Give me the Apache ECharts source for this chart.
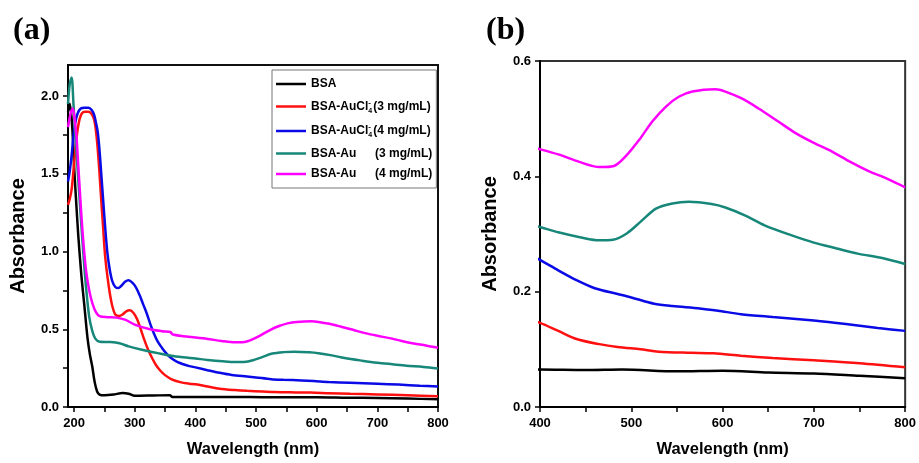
<!DOCTYPE html>
<html>
<head>
<meta charset="utf-8">
<script src="https://cdn.jsdelivr.net/npm/echarts@6/dist/echarts.min.js"></script>
<style>
  html, body { margin: 0; padding: 0; background: #fff; }
  #chart { width: 919px; height: 463px; }
</style>
</head>
<body>
<div id="chart"></div>
<script>
// spectra (wavelength nm / absorbance)
const bsaNm = [190,193,197,200,203,207,212,217,222,226,230,234,238,242,250,265,280,290,300,330,358,362,400,450,490,550,600,650,700,750,800]
const bsaAbs = [1.90,1.95,1.80,1.55,1.35,1.10,0.85,0.65,0.45,0.34,0.26,0.16,0.10,0.08,0.075,0.08,0.09,0.085,0.072,0.074,0.076,0.065,0.065,0.064,0.065,0.062,0.063,0.060,0.058,0.054,0.050]

const cl3Nm = [190,193,196,199,202,205,209,213,218,224,229,233,236,239,242,245,248,251,255,259,263,268,274,280,286,292,298,304,310,316,322,328,335,342,350,360,375,390,400,420,440,465,485,510,530,565,590,620,655,700,750,800]
const cl3Abs = [1.30,1.34,1.40,1.52,1.65,1.76,1.85,1.89,1.90,1.90,1.885,1.85,1.78,1.66,1.50,1.32,1.15,0.98,0.84,0.73,0.65,0.595,0.585,0.595,0.615,0.622,0.605,0.565,0.50,0.43,0.37,0.32,0.27,0.235,0.205,0.18,0.16,0.15,0.146,0.132,0.118,0.109,0.104,0.100,0.096,0.094,0.093,0.089,0.085,0.081,0.076,0.069]

const cl4Nm = [190,193,196,199,202,206,211,217,224,229,233,236,239,242,245,248,251,255,259,263,268,273,278,284,290,296,302,308,314,320,326,332,338,345,352,360,370,380,390,400,420,440,460,485,500,525,545,575,595,620,655,700,735,770,800]
const cl4Abs = [1.45,1.52,1.62,1.74,1.83,1.89,1.92,1.925,1.925,1.91,1.88,1.83,1.77,1.65,1.49,1.33,1.17,0.99,0.88,0.81,0.772,0.765,0.78,0.805,0.815,0.80,0.77,0.72,0.66,0.60,0.53,0.47,0.42,0.38,0.345,0.315,0.29,0.275,0.263,0.255,0.237,0.220,0.206,0.196,0.190,0.179,0.175,0.171,0.167,0.161,0.156,0.150,0.144,0.137,0.132]

const au3Nm = [190,193,196,199,202,205,208,212,216,220,225,230,235,242,260,275,290,310,340,360,380,400,420,445,465,480,495,510,527,545,563,588,603,625,646,675,700,725,748,776,800]
const au3Abs = [1.95,2.08,2.12,1.95,1.76,1.58,1.40,1.17,0.95,0.76,0.58,0.49,0.44,0.42,0.418,0.41,0.39,0.37,0.345,0.33,0.32,0.312,0.303,0.294,0.289,0.290,0.301,0.321,0.344,0.353,0.356,0.352,0.346,0.332,0.315,0.298,0.285,0.275,0.266,0.258,0.248]

const au4Nm = [190,195,198,201,204,207,210,213,216,220,225,230,236,242,255,270,285,300,325,345,359,362,380,400,420,443,465,481,494,509,523,538,552,567,592,603,621,639,661,680,700,720,740,760,780,800]
const au4Abs = [1.80,1.90,1.92,1.85,1.74,1.55,1.36,1.18,1.03,0.87,0.75,0.67,0.61,0.585,0.578,0.575,0.56,0.53,0.50,0.488,0.482,0.468,0.455,0.447,0.438,0.425,0.416,0.418,0.435,0.464,0.495,0.521,0.538,0.547,0.551,0.547,0.535,0.518,0.495,0.475,0.458,0.443,0.425,0.409,0.396,0.381]

// tick labels
const xLabelsA = [200,300,400,500,600,700,800]
const xTicksA = [200,250,300,350,400,450,500,550,600,650,700,750,800]
const yLabelsA = [0,0.5,1.0,1.5,2.0]
const yTicksA = [0,0.25,0.5,0.75,1.0,1.25,1.5,1.75,2.0]
const xLabelsB = [400,500,600,700,800]
const xTicksB = [400,450,500,550,600,650,700,750,800]
const yLabelsB = [0,0.2,0.4,0.6]

const names = ['BSA','BSA-AuCl4 (3)','BSA-AuCl4 (4)','BSA-Au (3)','BSA-Au (4)']
const colors = ['#000000','#ff1010','#0a0ae6','#17877a','#ff00ff']
const spectra = [[bsaNm,bsaAbs],[cl3Nm,cl3Abs],[cl4Nm,cl4Abs],[au3Nm,au3Abs],[au4Nm,au4Abs]]

const sans = '"Liberation Sans", Arial, sans-serif'
const tickFont = {fontFamily: sans, fontWeight: 'bold', fontSize: 13, color: '#000'}
const nameFontX = {fontFamily: sans, fontWeight: 'bold', fontSize: 16.5, color: '#000'}
const nameFontY = {fontFamily: sans, fontWeight: 'bold', fontSize: 20, color: '#000'}

const xAxisCfg = (grid, min, max, labels, ticks) => ({
    type: 'value', gridIndex: grid, min: min, max: max,
    name: 'Wavelength (nm)', nameLocation: 'middle', nameGap: 34, nameTextStyle: nameFontX,
    axisLine: {show: true, lineStyle: {color: '#000', width: 2}},
    axisTick: {show: true, customValues: ticks, length: 5, lineStyle: {color: '#000', width: 1.5}},
    axisLabel: {customValues: labels, margin: 10, ...tickFont, formatter: v => String(Math.round(v))},
    splitLine: {show: false}
})

const yAxisCfg = (grid, min, max, labels, ticks) => ({
    type: 'value', gridIndex: grid, min: min, max: max,
    name: 'Absorbance', nameLocation: 'middle', nameGap: 40, nameRotate: 90, nameTextStyle: nameFontY,
    axisLine: {show: true, lineStyle: {color: '#000', width: 2}},
    axisTick: {show: true, customValues: ticks, length: 5, lineStyle: {color: '#000', width: 1.5}},
    axisLabel: {customValues: labels, margin: 9, ...tickFont, formatter: v => v.toFixed(1)},
    splitLine: {show: false}
})

const series = []
for (let g = 0; g < 2; g++) {
    spectra.forEach((s, i) => {
        series.push({
            type: 'line', name: names[i], xAxisIndex: g, yAxisIndex: g,
            data: s[0].map((x, k) => [x, s[1][k]]),
            symbol: 'none', smooth: 0.3, clip: true,
            lineStyle: {color: colors[i], width: 2.5}, itemStyle: {color: colors[i]}
        })
    })
}

const legendText = {
    'BSA': '{n|BSA}',
    'BSA-AuCl4 (3)': '{n|BSA-AuCl}{sub|4}{sup|-}{n|(3 mg/mL)}',
    'BSA-AuCl4 (4)': '{n|BSA-AuCl}{sub|4}{sup|-}{n|(4 mg/mL)}',
    'BSA-Au (3)': '{w|BSA-Au}{n|(3 mg/mL)}',
    'BSA-Au (4)': '{w|BSA-Au}{n|(4 mg/mL)}'
}

const chart = echarts.init(document.getElementById('chart'))
chart.setOption({
    animation: false,
    backgroundColor: '#fff',
    title: [
        {text: '(a)', left: 8, top: 10, textStyle: {fontFamily: '"Liberation Serif", "Times New Roman", serif', fontWeight: 'bold', fontSize: 32, color: '#000'}},
        {text: '(b)', left: 481, top: 10, textStyle: {fontFamily: '"Liberation Serif", "Times New Roman", serif', fontWeight: 'bold', fontSize: 32, color: '#000'}}
    ],
    legend: {
        data: names, orient: 'vertical', left: 272, top: 70,
        icon: 'rect', itemWidth: 30, itemHeight: 2.5, itemGap: 8.5,
        padding: [8, 4, 8, 4],
        borderColor: '#777', borderWidth: 1, backgroundColor: '#fff',
        formatter: n => legendText[n],
        textStyle: {
            ...tickFont, fontSize: 12,
            rich: {
                n: {fontFamily: sans, fontWeight: 'bold', fontSize: 12, lineHeight: 16},
                w: {fontFamily: sans, fontWeight: 'bold', fontSize: 12, lineHeight: 16, width: 64},
                sub: {fontFamily: sans, fontWeight: 'bold', fontSize: 7, lineHeight: 16, verticalAlign: 'bottom', width: 0},
                sup: {fontFamily: sans, fontWeight: 'bold', fontSize: 8, lineHeight: 16, verticalAlign: 'top', width: 5}
            }
        }
    },
    grid: [
        {left: 68, top: 65, width: 370, height: 345, show: true, borderColor: '#111', borderWidth: 2},
        {left: 540, top: 61, width: 368, height: 349, show: true, borderColor: '#333', borderWidth: 2}
    ],
    xAxis: [
        xAxisCfg(0, 190, 800, xLabelsA, xTicksA),
        xAxisCfg(1, 400, 800, xLabelsB, xTicksB)
    ],
    yAxis: [
        yAxisCfg(0, 0, 2.2, yLabelsA, yTicksA),
        yAxisCfg(1, 0, 0.6, yLabelsB, yLabelsB)
    ],
    series: series
})
</script>
</body>
</html>
